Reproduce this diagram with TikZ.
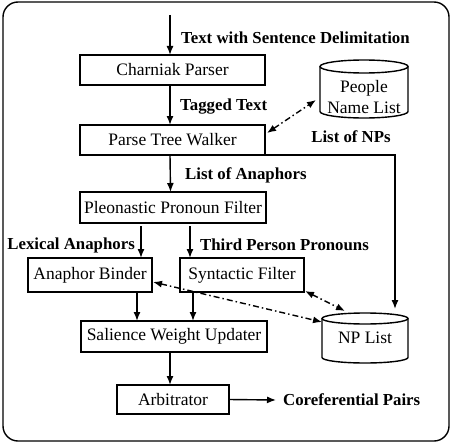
\documentclass[tikz,border=0pt]{standalone}
\usepackage{fontspec}
\setmainfont{Liberation Serif}
\usetikzlibrary{arrows.meta,calc}
\newcommand\drawcyl[3]{%
  \draw[lw] ([yshift=-#3]#1.north west) -- ([yshift=#3]#1.south west)
    arc[start angle=180,end angle=360,x radius=#2,y radius=#3]
    -- ([yshift=-#3]#1.north east);
  \draw[lw] ([yshift=-#3]#1.north) ellipse[x radius=#2,y radius=#3];}
\begin{document}
\begin{tikzpicture}[x=1pt,y=-1pt,
  font=\fontsize{17.5}{21}\selectfont,
  lw/.style={line width=1.4pt},
  box/.style={draw,lw,inner sep=0pt,outer sep=0pt},
  db/.style={inner sep=0pt,outer sep=0pt},
  lbl/.style={font=\fontsize{16.8}{19}\selectfont\bfseries,inner sep=0pt},
  arr/.style={lw,-{Latex[length=9pt,width=7pt]}},
  dd/.style={lw,{Latex[length=9pt,width=7pt]}-{Latex[length=9pt,width=7pt]},dash pattern=on 6pt off 3pt on 1.5pt off 3pt}]
\useasboundingbox (0,0) rectangle (452,444);
\draw[lw,rounded corners=15pt] (3,2) rectangle (449,441);
\node[box,minimum width=185pt,minimum height=30pt] (charniak) at (172.5,70) {Charniak Parser};
\node[box,minimum width=185pt,minimum height=30pt] (ptw) at (172.5,140) {Parse Tree Walker};
\node[box,minimum width=186pt,minimum height=31pt] (pleo) at (173,207.5) {Pleonastic Pronoun Filter};
\node[box,minimum width=124pt,minimum height=34pt] (binder) at (90,275) {Anaphor Binder};
\node[box,minimum width=124pt,minimum height=34pt] (synt) at (242,275) {Syntactic Filter};
\node[box,minimum width=186pt,minimum height=31pt] (sal) at (174,336.5) {Salience Weight Updater};
\node[box,minimum width=112pt,minimum height=29pt] (arb) at (173,399.5) {Arbitrator};
\node[db,minimum width=88pt,minimum height=58pt] (people) at (364,89) {\raisebox{-14pt}[0pt][0pt]{\begin{tabular}{@{}c@{}}People\\Name List\end{tabular}}};
\node[db,minimum width=86pt,minimum height=50pt] (nplist) at (365,338) {\raisebox{-5pt}[0pt][0pt]{NP List}};
\drawcyl{people}{44pt}{6.5pt}
\drawcyl{nplist}{43pt}{5.5pt}
\coordinate (start) at (170,15);
\coordinate (npin) at (395,309);
\coordinate (out) at (276,400);
\node[lbl,anchor=west] (l1) at (181,38) {Text with Sentence Delimitation};
\node[lbl,anchor=west] (l2) at (180,107) {Tagged Text};
\node[lbl] (l3) at (351,137) {List of NPs};
\node[lbl,anchor=west] (l4) at (185,175) {List of Anaphors};
\node[lbl,anchor=east] (l5) at (135,245) {Lexical Anaphors};
\node[lbl,anchor=west] (l6) at (200,245) {Third Person Pronouns};
\node[lbl,anchor=west] (l7) at (283,400) {Coreferential Pairs};
\draw[arr] (start) -- (start |- charniak.north);
\draw[arr] ([xshift=-2.5pt]charniak.south) -- ([xshift=-2.5pt]ptw.north);
\draw[arr] ([xshift=-2.5pt]ptw.south) -- ([xshift=-2.5pt]pleo.north);
\draw[arr] (141,0 |- pleo.south) ++(0,3) -- (141,0 |- binder.north);
\draw[arr] (190,0 |- pleo.south) ++(0,3) -- (190,0 |- binder.north);
\draw[arr] (137,0 |- binder.south) -- (137,0 |- sal.north);
\draw[arr] (193,0 |- synt.south) -- (193,0 |- sal.north);
\draw[arr] ([xshift=-4pt]sal.south) -- ([xshift=-3pt]arb.north);
\draw[arr] (arb.east) -- (out);
\draw[arr] (ptw.south east) -| (npin);
\draw[dd] ([shift={(2,-7)}]ptw.east) -- ([shift={(-4,11)}]people.west);
\draw[dd] ([shift={(1,7)}]binder.east) -- ([shift={(0,-16)}]nplist.west);
\draw[dd] ([shift={(1,-1)}]synt.south east) -- ([shift={(-20,-2)}]nplist.north);
\end{tikzpicture}
\end{document}
